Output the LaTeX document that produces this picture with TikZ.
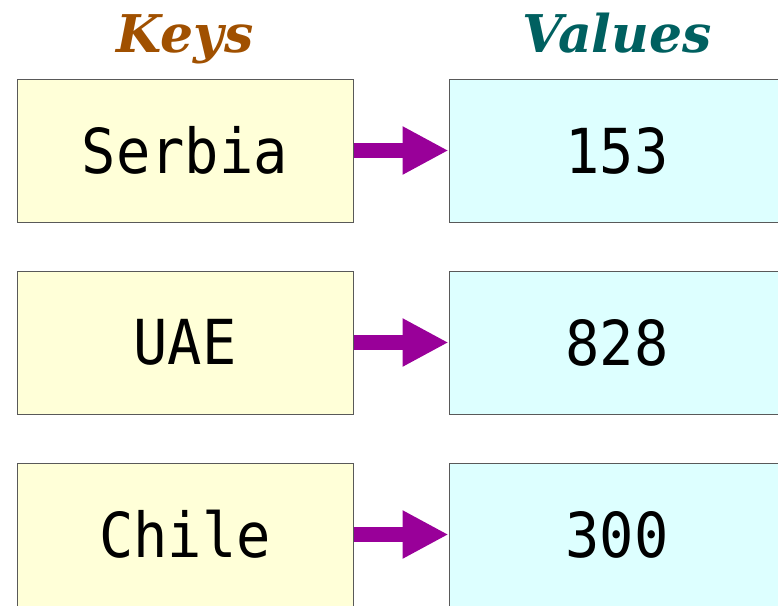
\documentclass[tikz,border=0pt]{standalone}
\usepackage{fontspec}
\setmonofont[FakeStretch=0.92]{DejaVu Sans Mono}
\newfontfamily\headfont{DejaVu Serif}
\usetikzlibrary{positioning,arrows.meta}

\definecolor{keyfill}{HTML}{FFFFD8}
\definecolor{valfill}{HTML}{DDFFFF}
\definecolor{keyhead}{HTML}{A05000}
\definecolor{valhead}{HTML}{006060}
\definecolor{arrowc}{HTML}{990099}

\tikzset{
    cell/.style={draw=black!65, line width=1pt, minimum width=336pt, minimum height=143pt,
        inner sep=0pt, font=\fontsize{62}{62}\selectfont\ttfamily},
    keybox/.style={cell, fill=keyfill},
    valbox/.style={cell, fill=valfill},
    heading/.style={anchor=base, font=\fontsize{52}{52}\selectfont\headfont\bfseries\itshape},
    maps/.style={arrowc, line width=15pt, -{Triangle[length=46pt, width=45pt]}}
}

\begin{document}
\begin{tikzpicture}[x=1pt, y=-1pt]
    \clip (0, 0) rectangle (778, 605);

    % Claves
    \node[keybox] (serbia) at (185, 150.5) {Serbia};
    \node[keybox, below=48pt of serbia] (uae) {UAE};
    \node[keybox, below=48pt of uae] (chile) {Chile};

    % Valores
    \node[valbox, right=95pt of serbia] (v153) {153};
    \node[valbox, right=95pt of uae] (v828) {828};
    \node[valbox, right=95pt of chile] (v300) {300};

    % Titulos
    \node[heading, text=keyhead] (keys) at (185, 52) {Keys};
    \node[heading, text=valhead] (vals) at (617, 52) {Values};

    % Flechas
    \draw[maps] (serbia) -- (v153);
    \draw[maps] (uae) -- (v828);
    \draw[maps] (chile) -- (v300);
\end{tikzpicture}
\end{document}
